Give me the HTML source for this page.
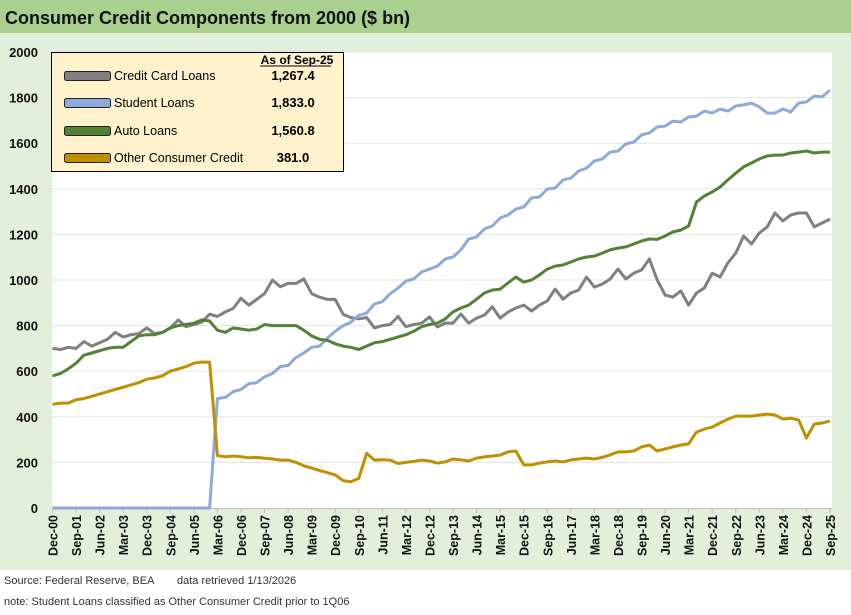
<!DOCTYPE html>
<html><head><meta charset="utf-8"><style>
body{margin:0;width:851px;height:610px;overflow:hidden;background:#fff;font-family:"Liberation Sans",sans-serif;}
</style></head><body>
<svg id="chart" width="851" height="610" xmlns="http://www.w3.org/2000/svg" style="font-family:'Liberation Sans',sans-serif">
<rect x="0" y="0" width="851" height="33" fill="#a9d08e"/>
<text x="5" y="24" font-size="18" font-weight="bold" fill="#111">Consumer Credit Components from 2000 ($ bn)</text>
<rect x="0" y="33" width="851" height="537" fill="#e2efda"/>
<rect x="52" y="52" width="780" height="456" fill="#fff"/>
<g id="grid"></g><g id="xaxis"></g><g id="series"></g>
<g>
<rect x="51.5" y="52.5" width="292" height="119" fill="#fff2cc" stroke="#000" stroke-width="1"/>
<text x="297" y="64" font-size="12" font-weight="bold" text-anchor="middle">As of Sep-25</text>
<line x1="260" y1="66" x2="331" y2="66" stroke="#000" stroke-width="1"/>
<g><rect x="64.5" y="71.5" width="46" height="9" rx="2" fill="#808080" stroke="#222"/><text x="114" y="80" font-size="12.5">Credit Card Loans</text><text x="293" y="80" font-size="13" font-weight="bold" text-anchor="middle">1,267.4</text></g>
<g><rect x="64.5" y="98.5" width="46" height="9" rx="2" fill="#8eaadb" stroke="#222"/><text x="114" y="107" font-size="12.5">Student Loans</text><text x="293" y="107" font-size="13" font-weight="bold" text-anchor="middle">1,833.0</text></g>
<g><rect x="64.5" y="126.5" width="46" height="9" rx="2" fill="#548235" stroke="#222"/><text x="114" y="135" font-size="12.5">Auto Loans</text><text x="293" y="135" font-size="13" font-weight="bold" text-anchor="middle">1,560.8</text></g>
<g><rect x="64.5" y="153.5" width="46" height="9" rx="2" fill="#bf9000" stroke="#222"/><text x="114" y="162" font-size="12.5">Other Consumer Credit</text><text x="293" y="162" font-size="13" font-weight="bold" text-anchor="middle">381.0</text></g>
</g>
<text x="4" y="584" font-size="11" fill="#333">Source: Federal Reserve, BEA</text>
<text x="177" y="584" font-size="11" fill="#333">data retrieved 1/13/2026</text>
<text x="4" y="605" font-size="11" fill="#333">note: Student Loans classified as Other Consumer Credit prior to 1Q06</text>
</svg>
<script>
const creditCard=[700,695,705,700,730,710,725,740,770,750,760,765,790,765,770,790,825,795,805,815,850,840,860,875,920,890,915,940,1000,970,985,985,1005,940,925,915,915,850,835,830,835,790,800,805,840,795,805,810,838,794,811,811,851,811,833,846,882,833,859,877,890,864,890,908,960,916,943,956,1013,969,982,1004,1048,1004,1030,1044,1092,1000,934,925,952,890,943,965,1030,1013,1075,1118,1193,1158,1206,1233,1294,1259,1285,1294,1294,1233,1250,1267];
const student=[0,0,0,0,0,0,0,0,0,0,0,0,0,0,0,0,0,0,0,0,0,480,485,510,520,545,550,575,590,620,625,660,680,705,710,745,775,800,815,845,855,895,905,940,965,995,1005,1035,1048,1061,1092,1101,1132,1180,1189,1224,1237,1272,1285,1311,1320,1360,1364,1399,1403,1439,1447,1478,1491,1522,1531,1561,1566,1597,1605,1636,1645,1671,1675,1697,1693,1715,1719,1741,1732,1750,1741,1763,1768,1776,1759,1732,1732,1750,1737,1776,1781,1807,1803,1833];
const auto=[580,590,610,635,670,680,690,700,705,705,730,755,760,760,770,790,800,805,810,825,820,780,770,790,785,780,785,805,800,800,800,800,780,755,740,735,720,710,705,695,710,725,730,740,750,760,775,795,805,811,829,860,877,890,916,943,956,960,987,1013,991,1000,1022,1048,1061,1066,1079,1092,1101,1105,1118,1132,1140,1145,1158,1171,1180,1178,1193,1211,1219,1237,1342,1368,1386,1408,1439,1469,1496,1513,1531,1544,1548,1548,1557,1561,1566,1557,1561,1561];
const other=[455,460,460,475,480,490,500,510,520,530,540,550,565,570,580,600,610,620,635,640,640,230,225,228,225,220,222,218,215,210,210,200,185,175,165,155,145,120,115,130,240,210,212,210,195,200,205,210,206,197,202,215,211,206,219,224,228,232,246,250,189,189,197,202,206,202,211,215,219,215,222,233,246,246,250,268,276,250,259,268,276,281,333,346,355,373,390,403,403,403,408,412,408,390,394,386,307,368,373,381];
const yTicks=[0,200,400,600,800,1000,1200,1400,1600,1800,2000];
const startYear=2000;
const NS="http://www.w3.org/2000/svg";
const X0=52.5,X1=830,Y0=508,Y1=52,YMAX=2000,N=creditCard.length;
function xs(i){return X0+(X1-X0)*i/(N-1);}
function ys(v){return Y0-(Y0-Y1)*v/YMAX;}
function mk(tag,attrs,parent){const e=document.createElementNS(NS,tag);for(const k in attrs)e.setAttribute(k,attrs[k]);parent.appendChild(e);return e;}
const grid=document.getElementById('grid');
yTicks.forEach(t=>{
  if(t>0){const l=mk('line',{x1:52,x2:832,y1:ys(t),y2:ys(t),stroke:'#e3e3e3','stroke-width':1},grid);
  
  }
  const tx=mk('text',{x:38,y:ys(t)+5,'font-size':13,'font-weight':'bold','text-anchor':'end',fill:'#111'},grid);
  tx.textContent=t;
  
  
});
const xa=document.getElementById('xaxis');
const ax=mk('line',{x1:52,x2:832,y1:508.5,y2:508.5,stroke:'#bfbfbf'},xa);


const months=['Mar','Jun','Sep','Dec'];
for(let i=0;i<N;i+=3){
  const q=i+3; const yr=startYear+Math.floor(q/4); const m=months[q%4];
  const label=m+'-'+String(yr%100).padStart(2,'0');
  const x=xs(i);
  mk('line',{x1:x,x2:x,y1:508,y2:513,stroke:'#bfbfbf'},xa);
  const t=mk('text',{x:0,y:0,'font-size':12.5,'font-weight':'bold','text-anchor':'end',fill:'#111',transform:`translate(${x+5},515) rotate(-90)`},xa);
  t.textContent=label;
  
  
}
const sg=document.getElementById('series');
[[creditCard,'#808080','credit-card-line'],[student,'#8eaadb','student-loans-line'],[auto,'#548235','auto-loans-line'],[other,'#bf9000','other-credit-line']].forEach(([arr,c,n])=>{
  const p=mk('polyline',{points:arr.map((v,i)=>xs(i).toFixed(1)+','+ys(v).toFixed(1)).join(' '),fill:'none',stroke:c,'stroke-width':3,'stroke-linejoin':'round'},sg);
  
  
});
</script>
</body></html>
